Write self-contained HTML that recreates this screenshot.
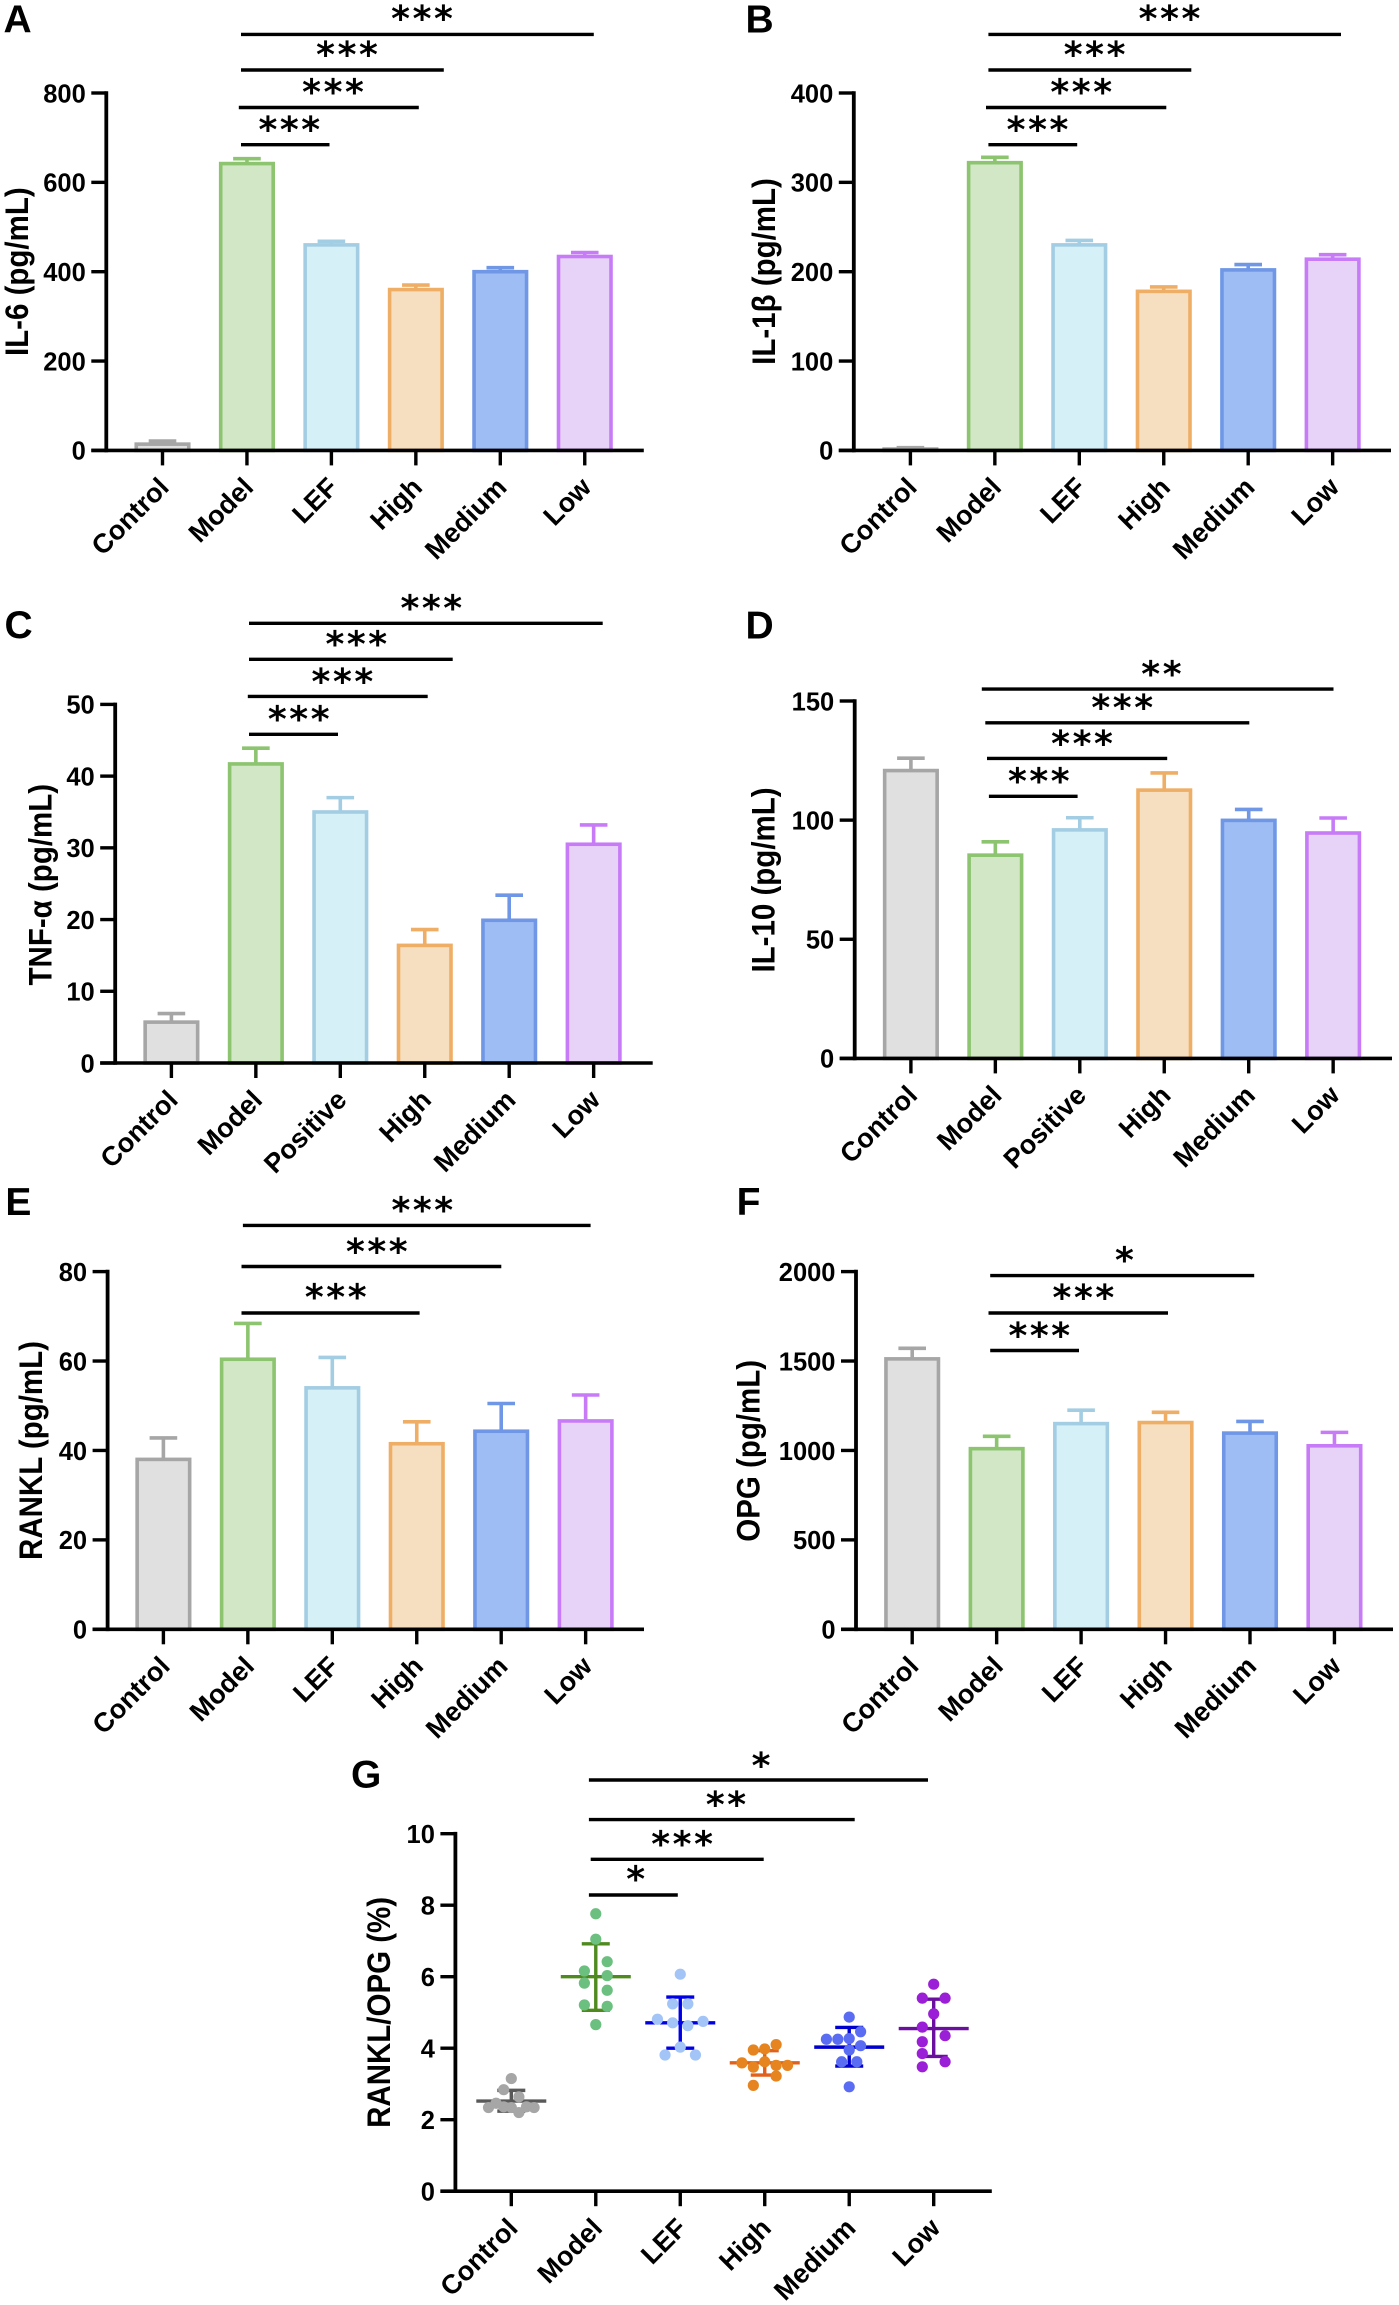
<!DOCTYPE html>
<html lang="en">
<head>
<meta charset="utf-8">
<title>Cytokine panels A-G</title>
<style>
html,body{margin:0;padding:0;background:#fff;width:1399px;height:2305px;overflow:hidden}
svg{display:block}
text{font-family:"Liberation Sans",Arial,sans-serif;font-weight:bold;fill:#000}
.letter{font-size:39px}
.ytitle{font-size:29.5px;text-anchor:middle}
.tick{font-size:25.5px;text-anchor:end}
.xlab{font-size:27px;text-anchor:end}
.star{font-family:"DejaVu Sans",sans-serif;font-size:36px;text-anchor:middle;letter-spacing:2.6px;transform:translateX(1.3px)}
.sig{stroke:#000;stroke-width:3.4}
</style>
</head>
<body>
<svg id="figure" xmlns="http://www.w3.org/2000/svg" width="1399" height="2305" viewBox="0 0 1399 2305">
  <rect width="1399" height="2305" fill="#fff"/>

  <g id="panel-a">
    <text class="letter" x="3.5" y="32.5">A</text>
    <text class="ytitle" transform="translate(28 271.7) rotate(-90) scale(1 1.1)">IL-6 (pg/mL)</text>
  </g>
  <g>
    <line class="sig" x1="241" x2="329.5" y1="144.7" y2="144.7"/>
    <line class="sig" x1="238.8" x2="418.8" y1="107.5" y2="107.5"/>
    <line class="sig" x1="241" x2="443.8" y1="70" y2="70"/>
    <line class="sig" x1="241" x2="593.8" y1="34.4" y2="34.4"/>
    <text class="star" x="289.3" y="142">***</text>
    <text class="star" x="333" y="104.4">***</text>
    <text class="star" x="347" y="67">***</text>
    <text class="star" x="422" y="31">***</text>
  </g>

  <g id="panel-b">
    <text class="letter" x="745.5" y="32.5">B</text>
    <text class="ytitle" transform="translate(775 271.5) rotate(-90) scale(1 1.1)">IL-1β (pg/mL)</text>
  </g>
  <g>
    <line class="sig" x1="988.4" x2="1077.2" y1="144.7" y2="144.7"/>
    <line class="sig" x1="986" x2="1166.3" y1="107.5" y2="107.5"/>
    <line class="sig" x1="988.4" x2="1191.3" y1="70" y2="70"/>
    <line class="sig" x1="988.4" x2="1341" y1="34.4" y2="34.4"/>
    <text class="star" x="1037.5" y="142">***</text>
    <text class="star" x="1081.2" y="104.4">***</text>
    <text class="star" x="1094.6" y="67">***</text>
    <text class="star" x="1169.5" y="31">***</text>
  </g>

  <g id="panel-c">
    <text class="letter" x="4.5" y="638">C</text>
    <text class="ytitle" transform="translate(51.5 884.7) rotate(-90) scale(1 1.1)">TNF-α (pg/mL)</text>
  </g>
  <g>
    <line class="sig" x1="249" x2="338" y1="734.3" y2="734.3"/>
    <line class="sig" x1="247.8" x2="427.7" y1="696.4" y2="696.4"/>
    <line class="sig" x1="249" x2="452.7" y1="659.3" y2="659.3"/>
    <line class="sig" x1="249" x2="602.7" y1="623.3" y2="623.3"/>
    <text class="star" x="298.7" y="731.6">***</text>
    <text class="star" x="342.4" y="694.1">***</text>
    <text class="star" x="356.3" y="656.6">***</text>
    <text class="star" x="431.3" y="620.6">***</text>
  </g>

  <g id="panel-d">
    <text class="letter" x="745.5" y="638.6">D</text>
    <text class="ytitle" transform="translate(774.4 880) rotate(-90) scale(1 1.1)">IL-10 (pg/mL)</text>
  </g>
  <g>
    <line class="sig" x1="988.9" x2="1077.6" y1="796.3" y2="796.3"/>
    <line class="sig" x1="987" x2="1167.2" y1="758.4" y2="758.4"/>
    <line class="sig" x1="985.3" x2="1249.3" y1="722.8" y2="722.8"/>
    <line class="sig" x1="981.8" x2="1333.5" y1="689.1" y2="689.1"/>
    <text class="star" x="1038.8" y="793.6">***</text>
    <text class="star" x="1082" y="756.1">***</text>
    <text class="star" x="1122.2" y="720.1">***</text>
    <text class="star" x="1161.4" y="686.4">**</text>
  </g>

  <g id="panel-e">
    <text class="letter" x="5.4" y="1215">E</text>
    <text class="ytitle" transform="translate(42 1450.5) rotate(-90) scale(1 1.1)">RANKL (pg/mL)</text>
  </g>
  <g>
    <line class="sig" x1="241.5" x2="419.6" y1="1313" y2="1313"/>
    <line class="sig" x1="241.5" x2="501.3" y1="1266.5" y2="1266.5"/>
    <line class="sig" x1="242.9" x2="590.6" y1="1225.4" y2="1225.4"/>
    <text class="star" x="335.7" y="1309.6">***</text>
    <text class="star" x="376.8" y="1263.8">***</text>
    <text class="star" x="422.3" y="1222.4">***</text>
  </g>

  <g id="panel-f">
    <text class="letter" x="736.6" y="1215">F</text>
    <text class="ytitle" transform="translate(759.7 1450.8) rotate(-90) scale(1 1.1)">OPG (pg/mL)</text>
  </g>
  <g>
    <line class="sig" x1="990.2" x2="1079" y1="1350.5" y2="1350.5"/>
    <line class="sig" x1="988.5" x2="1168" y1="1313" y2="1313"/>
    <line class="sig" x1="990.2" x2="1254.2" y1="1275.6" y2="1275.6"/>
    <text class="star" x="1039.3" y="1347.8">***</text>
    <text class="star" x="1083.4" y="1310">***</text>
    <text class="star" x="1124.4" y="1272.6">*</text>
  </g>

  <g id="panel-g">
    <text class="letter" x="351" y="1787.6">G</text>
    <text class="ytitle" transform="translate(390 2012.4) rotate(-90) scale(1 1.1)">RANKL/OPG (%)</text>
  </g>
  <g>
    <line class="sig" x1="588.9" x2="677.8" y1="1895" y2="1895"/>
    <line class="sig" x1="590.7" x2="763.7" y1="1859.3" y2="1859.3"/>
    <line class="sig" x1="588.9" x2="854.7" y1="1819.6" y2="1819.6"/>
    <line class="sig" x1="588.9" x2="928" y1="1780" y2="1780"/>
    <text class="star" x="635.7" y="1891.7">*</text>
    <text class="star" x="682.1" y="1856.4">***</text>
    <text class="star" x="726" y="1816.8">**</text>
    <text class="star" x="761" y="1777.9">*</text>
  </g>
</svg>

<script>
// ---- categories ----
const groupsLef = ['Control', 'Model', 'LEF', 'High', 'Medium', 'Low'];
const groupsPositive = ['Control', 'Model', 'Positive', 'High', 'Medium', 'Low'];

// ---- panel A: IL-6 ----
const il6Ticks = [0, 200, 400, 600, 800];
const il6Means = [14, 642, 460, 360, 400, 434];
const il6Upper = [21, 653, 468, 370, 409, 443];

// ---- panel B: IL-1beta ----
const il1bTicks = [0, 100, 200, 300, 400];
const il1bMeans = [1.5, 322, 230, 178, 202, 214];
const il1bUpper = [3, 328, 235, 183, 208, 219];

// ---- panel C: TNF-alpha ----
const tnfTicks = [0, 10, 20, 30, 40, 50];
const tnfMeans = [5.7, 41.7, 35, 16.4, 19.9, 30.5];
const tnfUpper = [6.9, 43.9, 37, 18.6, 23.4, 33.2];

// ---- panel D: IL-10 ----
const il10Ticks = [0, 50, 100, 150];
const il10Means = [120.8, 85.3, 95.9, 112.6, 99.9, 94.6];
const il10Upper = [126, 90.9, 101, 119.8, 104.5, 100.9];

// ---- panel E: RANKL ----
const ranklTicks = [0, 20, 40, 60, 80];
const ranklMeans = [38, 60.4, 54, 41.5, 44.3, 46.6];
const ranklUpper = [42.8, 68.4, 60.8, 46.4, 50.5, 52.4];

// ---- panel F: OPG ----
const opgTicks = [0, 500, 1000, 1500, 2000];
const opgMeans = [1512, 1010, 1150, 1156, 1097, 1026];
const opgUpper = [1571, 1079, 1225, 1213, 1162, 1101];

// ---- panel G: RANKL/OPG ratio ----
const ratioTicks = [0, 2, 4, 6, 8, 10];
const ratioMeans = [2.52, 6.0, 4.71, 3.59, 4.03, 4.55];
const ratioUpper = [2.82, 6.92, 5.43, 3.93, 4.58, 5.37];
const ratioLower = [2.24, 5.06, 4.0, 3.25, 3.5, 3.77];
const ratioControl = [3.15, 2.84, 2.64, 2.46, 2.34, 2.36, 2.34, 2.2, 2.36, 2.34];
const ratioModel = [7.76, 7.05, 6.42, 6.16, 6.03, 5.82, 5.62, 5.21, 5.17, 4.66];
const ratioLef = [6.07, 5.24, 5.24, 4.81, 4.71, 4.63, 4.75, 4.03, 3.81, 3.81];
const ratioHigh = [4.1, 3.98, 3.95, 3.59, 3.62, 3.52, 3.52, 3.47, 3.22, 2.96];
const ratioMedium = [4.87, 4.46, 4.25, 4.25, 4.27, 4.07, 3.95, 3.62, 3.62, 2.92];
const ratioLow = [5.79, 5.4, 5.4, 4.96, 4.59, 4.35, 4.18, 3.85, 3.62, 3.48];
// swarm column of each point (integer-ish column index, not pixels)
const swarmControl = [0, -1, 1, -2, -3, -1, 0, 1, 2, 3];
const swarmModel = [0, 0, 1.5, -1.5, 1.5, -1.5, 1.5, -1.5, 1.5, 0];
const swarmLef = [0, -1, 1, -3, -1, 1, 3, 0, -2, 2];
const swarmHigh = [1.5, 0, -1.5, -3, 0, 1.5, 3, -1.5, 1.5, -1.5];
const swarmMedium = [0, 1.5, -3, -1.5, 0, 1.5, 0, -1, 1, 0];
const swarmLow = [0, -1.5, 1.5, 0, -1.5, 1.5, -1.5, -1.5, 1.5, -1.5];

// ---- styling ----
const barStrokes = ['#a6a6a6', '#8cc46f', '#a3cde3', '#eeae66', '#6f97e6', '#c77bf7'];
const barFills = ['#e0e0e0', '#d1e7c6', '#d6f0f7', '#f6dfc0', '#9fbdf5', '#e8d3f8'];
const dotColors = ['#a6a6a6', '#6bbf7f', '#a3c4f7', '#e6851f', '#5a6cf2', '#9a1fd6'];
const meanColors = ['#595959', '#4f8a1e', '#0000e6', '#e0601c', '#0000cc', '#6a0f9e'];

const SVGNS = 'http://www.w3.org/2000/svg';
function make(parent, tag, attrs) {
  const el = document.createElementNS(SVGNS, tag);
  for (const k in attrs) el.setAttribute(k, attrs[k]);
  parent.appendChild(el);
  return el;
}

function axes(root, o, cats, ticks, yScale, xScale) {
  const g = make(root, 'g', {});
  
  

  const yAxis = make(g, 'line', {x1: o.axisX, x2: o.axisX, y1: yScale(ticks[ticks.length - 1]) - 1.8, y2: o.baseY + 1.8, stroke: '#000', 'stroke-width': 3.8});
  
  

  const xAxis = make(g, 'line', {x1: o.axisX - 15, x2: o.xEnd, y1: o.baseY, y2: o.baseY, stroke: '#000', 'stroke-width': 3.6});
  
  

  ticks.forEach(function (t) {
    const y = yScale(t);
    const mark = make(g, 'line', {x1: o.axisX - 15, x2: o.axisX, y1: y, y2: y, stroke: '#000', 'stroke-width': 3.4});
    
    
    const lab = make(g, 'text', {class: 'tick', x: o.axisX - 20.5, y: y + 9.3});
    
    
    lab.textContent = String(t);
  });

  cats.forEach(function (c, i) {
    const x = xScale(i);
    const mark = make(g, 'line', {x1: x, x2: x, y1: o.baseY, y2: o.baseY + 15, stroke: '#000', 'stroke-width': 3.4});
    
    
    const ax = x + 8, ay = o.baseY + 38.5;
    const lab = make(g, 'text', {class: 'xlab', x: ax, y: ay, transform: 'rotate(-45 ' + ax + ' ' + ay + ')'});
    
    
    lab.textContent = c;
  });
}

function barChart(rootId, o, cats, ticks, means, upper) {
  const root = document.getElementById(rootId);
  const top = ticks[ticks.length - 1];
  const yScale = function (v) { return o.baseY - (v / top) * (o.baseY - o.topY); };
  const xScale = function (i) { return o.firstX + i * o.stepX; };
  means.forEach(function (m, i) {
    const x = xScale(i), yTop = yScale(m), yErr = yScale(upper[i]);
    const whisker = make(root, 'line', {x1: x, x2: x, y1: yTop, y2: yErr, stroke: barStrokes[i], 'stroke-width': 3.6});
    
    
    const cap = make(root, 'line', {x1: x - 13.8, x2: x + 13.8, y1: yErr, y2: yErr, stroke: barStrokes[i], 'stroke-width': 3.6});
    
    
    const bar = make(root, 'rect', {x: x - 26.25, y: yTop, width: 52.5, height: Math.max(0, o.baseY - yTop), fill: barFills[i], stroke: barStrokes[i], 'stroke-width': 3.6});
    
    
  });
  axes(root, o, cats, ticks, yScale, xScale);
}

function dotChart(rootId, o, cats, ticks, means, upper, lower, series, swarms) {
  const root = document.getElementById(rootId);
  const top = ticks[ticks.length - 1];
  const yScale = function (v) { return o.baseY - (v / top) * (o.baseY - o.topY); };
  const xScale = function (i) { return o.firstX + i * o.stepX; };
  series.forEach(function (vals, i) {
    const x = xScale(i);
    const c = meanColors[i];
    const stem = make(root, 'line', {x1: x, x2: x, y1: yScale(upper[i]), y2: yScale(lower[i]), stroke: c, 'stroke-width': 3.4});
    
    
    const capU = make(root, 'line', {x1: x - 14, x2: x + 14, y1: yScale(upper[i]), y2: yScale(upper[i]), stroke: c, 'stroke-width': 3.4});
    
    
    const capL = make(root, 'line', {x1: x - 14, x2: x + 14, y1: yScale(lower[i]), y2: yScale(lower[i]), stroke: c, 'stroke-width': 3.4});
    
    
    const meanLine = make(root, 'line', {x1: x - 35, x2: x + 35, y1: yScale(means[i]), y2: yScale(means[i]), stroke: c, 'stroke-width': 3.4});
    
    
    vals.forEach(function (v, j) {
      const dot = make(root, 'circle', {cx: x + swarms[i][j] * o.swarmStep, cy: yScale(v), r: 5.6, fill: dotColors[i]});
      
      
    });
  });
  axes(root, o, cats, ticks, yScale, xScale);
}

barChart('panel-a', {axisX: 106.3, topY: 93, baseY: 450.4, xEnd: 643.8, firstX: 162.5, stepX: 84.45}, groupsLef, il6Ticks, il6Means, il6Upper);
barChart('panel-b', {axisX: 853.8, topY: 93, baseY: 450.4, xEnd: 1391, firstX: 910.4, stepX: 84.45}, groupsLef, il1bTicks, il1bMeans, il1bUpper);
barChart('panel-c', {axisX: 115.2, topY: 704.4, baseY: 1063, xEnd: 652.7, firstX: 171.4, stepX: 84.45}, groupsPositive, tnfTicks, tnfMeans, tnfUpper);
barChart('panel-d', {axisX: 854.7, topY: 701, baseY: 1058.4, xEnd: 1392, firstX: 910.9, stepX: 84.45}, groupsPositive, il10Ticks, il10Means, il10Upper);
barChart('panel-e', {axisX: 107.6, topY: 1271.6, baseY: 1629.3, xEnd: 644, firstX: 163.4, stepX: 84.45}, groupsLef, ranklTicks, ranklMeans, ranklUpper);
barChart('panel-f', {axisX: 856, topY: 1271.6, baseY: 1629.3, xEnd: 1393, firstX: 912.2, stepX: 84.45}, groupsLef, opgTicks, opgMeans, opgUpper);
dotChart('panel-g', {axisX: 455.4, topY: 1833.7, baseY: 2191.2, xEnd: 991.8, firstX: 511.3, stepX: 84.48, swarmStep: 7.6}, groupsLef, ratioTicks, ratioMeans, ratioUpper, ratioLower,
  [ratioControl, ratioModel, ratioLef, ratioHigh, ratioMedium, ratioLow],
  [swarmControl, swarmModel, swarmLef, swarmHigh, swarmMedium, swarmLow]);
</script>
</body>
</html>
